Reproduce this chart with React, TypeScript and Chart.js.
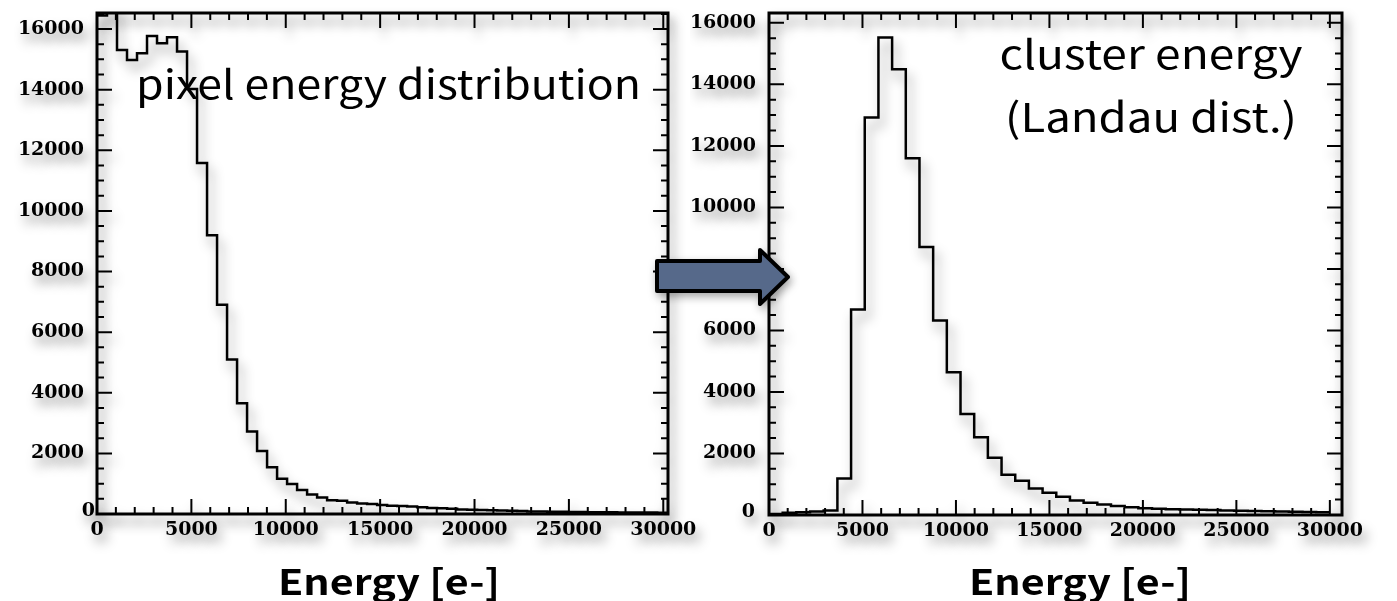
import React, { useEffect, useRef } from "react";
import { Chart, registerables } from "chart.js";

Chart.register(...registerables);

// ---------------- data ----------------
const LEFT_BIN_WIDTH = 530;
const LEFT_COUNTS = [
  16450, 16800, 15310, 14980, 15200, 15775, 15535, 15730, 15260, 14020,
  11580, 9200, 6900, 5100, 3650, 2720, 2080, 1540, 1160, 990,
  790, 640, 545, 450, 440, 380, 350, 330, 300, 270,
  260, 245, 220, 200, 190, 170, 150, 140, 130, 125,
  115, 105, 100, 85, 80, 75, 75, 70, 65, 60,
  58, 55, 52, 50, 50, 48, 45,
];

const RIGHT_BIN_WIDTH = 30000 / 41;
const RIGHT_COUNTS = [
  30, 70, 90, 110, 150, 1190, 6680, 12920, 15520, 14490,
  11600, 8710, 6320, 4640, 3280, 2530, 1860, 1310, 1110, 860,
  720, 590, 470, 400, 340, 290, 255, 220, 200, 190,
  180, 170, 160, 150, 140, 130, 125, 115, 105, 100, 90,
];

const X_TICKS = [0, 5000, 10000, 15000, 20000, 25000, 30000];
const Y_TICKS = [0, 2000, 4000, 6000, 8000, 10000, 12000, 14000, 16000];
const X_MINOR_STEP = 1000;
const Y_MINOR_STEP = 500;

const LEFT_LABEL = ["pixel energy distribution"];
const RIGHT_LABEL = ["cluster energy", "(Landau dist.)"];
const X_TITLE = "Energy [e-]";

// ---------------- helpers ----------------
function toSteps(counts: number[], w: number) {
  const pts = counts.map((c, i) => ({ x: i * w, y: c }));
  pts.push({ x: counts.length * w, y: counts[counts.length - 1] });
  return pts;
}

function setShadow(ctx: CanvasRenderingContext2D) {
  ctx.shadowColor = "rgba(0,0,0,0.42)";
  ctx.shadowBlur = 12;
  ctx.shadowOffsetX = 4;
  ctx.shadowOffsetY = 8;
}

// draw text stretched horizontally to a given width
function stretchedText(
  ctx: CanvasRenderingContext2D,
  text: string,
  x: number,
  y: number,
  targetW: number,
  align: "left" | "center"
) {
  const w = ctx.measureText(text).width;
  const s = targetW / w;
  ctx.save();
  const startX = align === "left" ? x : x - targetW / 2;
  ctx.translate(startX, y);
  ctx.scale(s, 1);
  ctx.textAlign = "left";
  ctx.fillText(text, 0, 0);
  ctx.restore();
}

type PanelProps = {
  counts: number[];
  binWidth: number;
  xMax: number;
  yMax: number;
  offsetX: number;
  width: number;
  plotLeft: number;
  plotRight: number;
  plotTop: number;
  plotBottom: number;
  zeroLabelGap: number;
  labelLines: string[];
  labelX: number;
  labelAlign: "left" | "center";
  labelBaselines: number[];
  labelWidths: number[];
  titleX: number;
};

const HEIGHT = 601;

function Panel(p: PanelProps) {
  const ref = useRef<HTMLCanvasElement | null>(null);
  useEffect(() => {
    if (!ref.current) return;
    const ox = p.offsetX;
    const plugin = {
      id: "rootStyle",
      beforeDatasetsDraw(chart: any) {
        chart.ctx.save();
        setShadow(chart.ctx);
      },
      afterDatasetsDraw(chart: any) {
        chart.ctx.restore();
      },
      afterDraw(chart: any) {
        const ctx: CanvasRenderingContext2D = chart.ctx;
        const { left, right, top, bottom } = chart.chartArea;
        const xs = chart.scales.x;
        const ys = chart.scales.y;
        ctx.save();
        setShadow(ctx);
        ctx.strokeStyle = "#000";
        ctx.lineWidth = 2;
        ctx.beginPath();
        for (let v = 0; v <= p.xMax; v += X_MINOR_STEP) {
          const len = v % 5000 === 0 ? 15 : 7;
          const px = xs.getPixelForValue(v);
          ctx.moveTo(px, bottom);
          ctx.lineTo(px, bottom - len);
          ctx.moveTo(px, top);
          ctx.lineTo(px, top + len);
        }
        for (let v = 0; v <= p.yMax; v += Y_MINOR_STEP) {
          const len = v % 2000 === 0 ? 15 : 7;
          const py = ys.getPixelForValue(v);
          ctx.moveTo(left, py);
          ctx.lineTo(left + len, py);
          ctx.moveTo(right, py);
          ctx.lineTo(right - len, py);
        }
        ctx.stroke();
        ctx.lineWidth = 3;
        ctx.strokeRect(left, top, right - left, bottom - top);

        ctx.fillStyle = "#000";
        ctx.font = "bold 19px 'DejaVu Serif'";
        ctx.textAlign = "right";
        ctx.textBaseline = "middle";
        for (const v of Y_TICKS) {
          const py = ys.getPixelForValue(v);
          if (v === 0) {
            ctx.fillText(String(v), left - p.zeroLabelGap, py - 3);
          } else {
            ctx.fillText(String(v), left - 13, py);
          }
        }
        ctx.textAlign = "center";
        ctx.textBaseline = "top";
        for (const v of X_TICKS) {
          ctx.fillText(String(v), xs.getPixelForValue(v), bottom + 7);
        }
        ctx.restore();

        ctx.save();
        ctx.fillStyle = "#000";
        ctx.font = "40px 'Noto Sans CJK JP'";
        ctx.textBaseline = "alphabetic";
        p.labelLines.forEach((line, i) => {
          stretchedText(ctx, line, p.labelX - ox, p.labelBaselines[i], p.labelWidths[i], p.labelAlign);
        });
        ctx.font = "bold 35px 'Noto Sans CJK JP'";
        stretchedText(ctx, X_TITLE, p.titleX - ox, 595, 222, "center");
        ctx.restore();
      },
    };

    const chart = new Chart(ref.current, {
      type: "line",
      data: {
        datasets: [
          {
            data: toSteps(p.counts, p.binWidth),
            stepped: "before",
            borderColor: "#000",
            borderWidth: 2.5,
            pointRadius: 0,
            fill: false,
            tension: 0,
          },
        ],
      },
      options: {
        responsive: false,
        animation: false,
        devicePixelRatio: 1,
        layout: {
          padding: {
            left: p.plotLeft - ox,
            right: ox + p.width - p.plotRight,
            top: p.plotTop,
            bottom: HEIGHT - p.plotBottom,
          },
        },
        plugins: { legend: { display: false }, tooltip: { enabled: false } },
        scales: {
          x: { type: "linear", min: 0, max: p.xMax, display: false },
          y: { type: "linear", min: 0, max: p.yMax, display: false },
        },
      },
      plugins: [plugin],
    } as any);
    return () => chart.destroy();
  }, []);
  return (
    <canvas
      ref={ref}
      width={p.width}
      height={HEIGHT}
      style={{ position: "absolute", left: p.offsetX, top: 0, width: p.width, height: HEIGHT }}
    />
  );
}

export default function App() {
  return (
    <div
      style={{
        position: "fixed",
        left: 0,
        top: 0,
        width: 1397,
        height: 601,
        background: "#fff",
        overflow: "hidden",
      }}
    >
      <Panel
        counts={LEFT_COUNTS}
        binWidth={LEFT_BIN_WIDTH}
        xMax={30250}
        yMax={16530}
        offsetX={0}
        width={720}
        plotLeft={97}
        plotRight={668}
        plotTop={13}
        plotBottom={514}
        zeroLabelGap={2}
        labelLines={LEFT_LABEL}
        labelX={136}
        labelAlign="left"
        labelBaselines={[99]}
        labelWidths={[505]}
        titleX={389}
      />
      <Panel
        counts={RIGHT_COUNTS}
        binWidth={RIGHT_BIN_WIDTH}
        xMax={30650}
        yMax={16320}
        offsetX={690}
        width={707}
        plotLeft={769}
        plotRight={1342}
        plotTop={13}
        plotBottom={515}
        zeroLabelGap={14}
        labelLines={RIGHT_LABEL}
        labelX={1151}
        labelAlign="center"
        labelBaselines={[69, 132]}
        labelWidths={[303, 292]}
        titleX={1080}
      />
      <svg
        width={1397}
        height={601}
        style={{ position: "absolute", left: 0, top: 0, pointerEvents: "none" }}
      >
        <polygon
          points="657,261 760,261 760,250 788,277 760,304 760,291 657,291"
          fill="#56698a"
          stroke="#000"
          strokeWidth={4}
          strokeLinejoin="round"
          style={{ filter: "drop-shadow(2px 4px 4px rgba(0,0,0,0.35))" }}
        />
      </svg>
    </div>
  );
}
